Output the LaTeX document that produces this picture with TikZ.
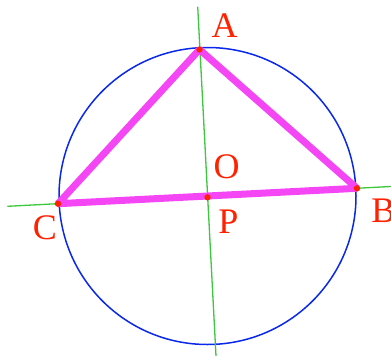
\documentclass[tikz,border=0pt]{standalone}
\usepackage{fontspec}
\setmainfont{Liberation Serif}
\definecolor{ptred}{RGB}{255,34,0}
\definecolor{tri}{RGB}{245,70,245}
\definecolor{circblue}{RGB}{10,40,235}
\definecolor{axgreen}{RGB}{60,200,60}
\begin{document}
\begin{tikzpicture}[x=1pt,y=-1pt,
  lbl/.style={text=ptred,font=\fontsize{36}{36}\selectfont,inner sep=0pt},
  dot/.style={fill=ptred,draw=none},
  axis/.style={draw=axgreen,line width=1.3pt},
  circ/.style={draw=circblue,line width=1.5pt},
  triline/.style={draw=tri,line width=7pt,line join=bevel}]
\useasboundingbox[fill=white] (0,0) rectangle (391,356);
\coordinate (O) at (207.5,196);
\coordinate (A) at (199.5,49.5);
\coordinate (B) at (357,188.3);
\coordinate (C) at (58,203.7);
\coordinate (P) at (207.5,197.3);
\coordinate (g1a) at (197.7,6.7);
\coordinate (g1b) at (216,356);
\coordinate (g2a) at (7.3,206.3);
\coordinate (g2b) at (391,186.5);
\draw[circ] (O) circle (148.5);
\draw[axis] (g1a) -- (g1b);
\draw[axis] (g2a) -- (g2b);
\draw[triline] (A) -- (B) -- (C) -- cycle;
\foreach \p in {A,B,C,P} \fill[dot] (\p) circle (3.2);
\node[lbl] (lA) at (224.5,25.5) {A};
\node[lbl] (lB) at (383.5,211) {B};
\node[lbl] (lC) at (45,228) {C};
\node[lbl] (lO) at (226.5,167) {O};
\node[lbl] (lP) at (228.5,221.5) {P};
\end{tikzpicture}
\end{document}
